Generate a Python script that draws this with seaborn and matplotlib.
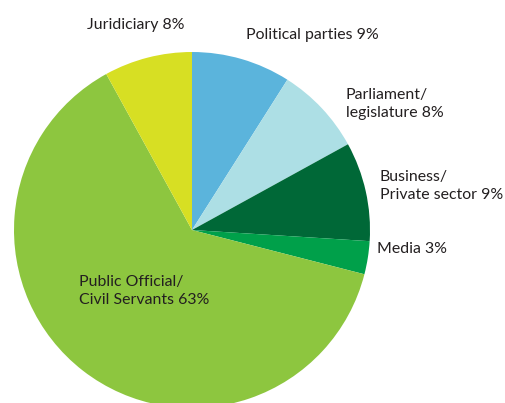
import matplotlib
matplotlib.use("Agg")
import matplotlib.pyplot as plt
import seaborn as sns

sns.set_theme(style="white")
plt.rcParams["font.family"] = ["Lato", "DejaVu Sans"]

# Share of reported cases by sector (percent), clockwise from 12 o'clock
sectors = ["Political parties", "Parliament/\nlegislature", "Business/\nPrivate sector",
           "Media", "Public Official/\nCivil Servants", "Juridiciary"]
shares = [9, 8, 9, 3, 63, 8]
colors = ["#5BB4DC", "#ADDFE5", "#006837", "#00A04A", "#8DC63F", "#D7DF23"]

# label anchor points (left edge, vertical centre) in pixel space
label_px = [(246, 35), (346, 104), (380, 186), (377, 249), (79, 291), (87, 25)]

W, H = 506, 403
cx, cy, r = 192, 230, 178

fig = plt.figure(figsize=(W / 100, H / 100), dpi=100)
ax = fig.add_axes([0, 0, 1, 1])
ax.pie(shares, colors=colors, startangle=90, counterclock=False,
       radius=1, center=(0, 0), wedgeprops=dict(linewidth=0))
ax.set_xlim(-cx / r, (W - cx) / r)
ax.set_ylim((cy - H) / r, cy / r)
ax.set_aspect("equal")
ax.axis("off")

for name, val, (px, py) in zip(sectors, shares, label_px):
    ax.text((px - cx) / r, (cy - py) / r, f"{name} {val}%",
            ha="left", va="center", fontsize=11.4, color="#231F20",
            linespacing=1.4)

fig.savefig("out.png", dpi=100)
